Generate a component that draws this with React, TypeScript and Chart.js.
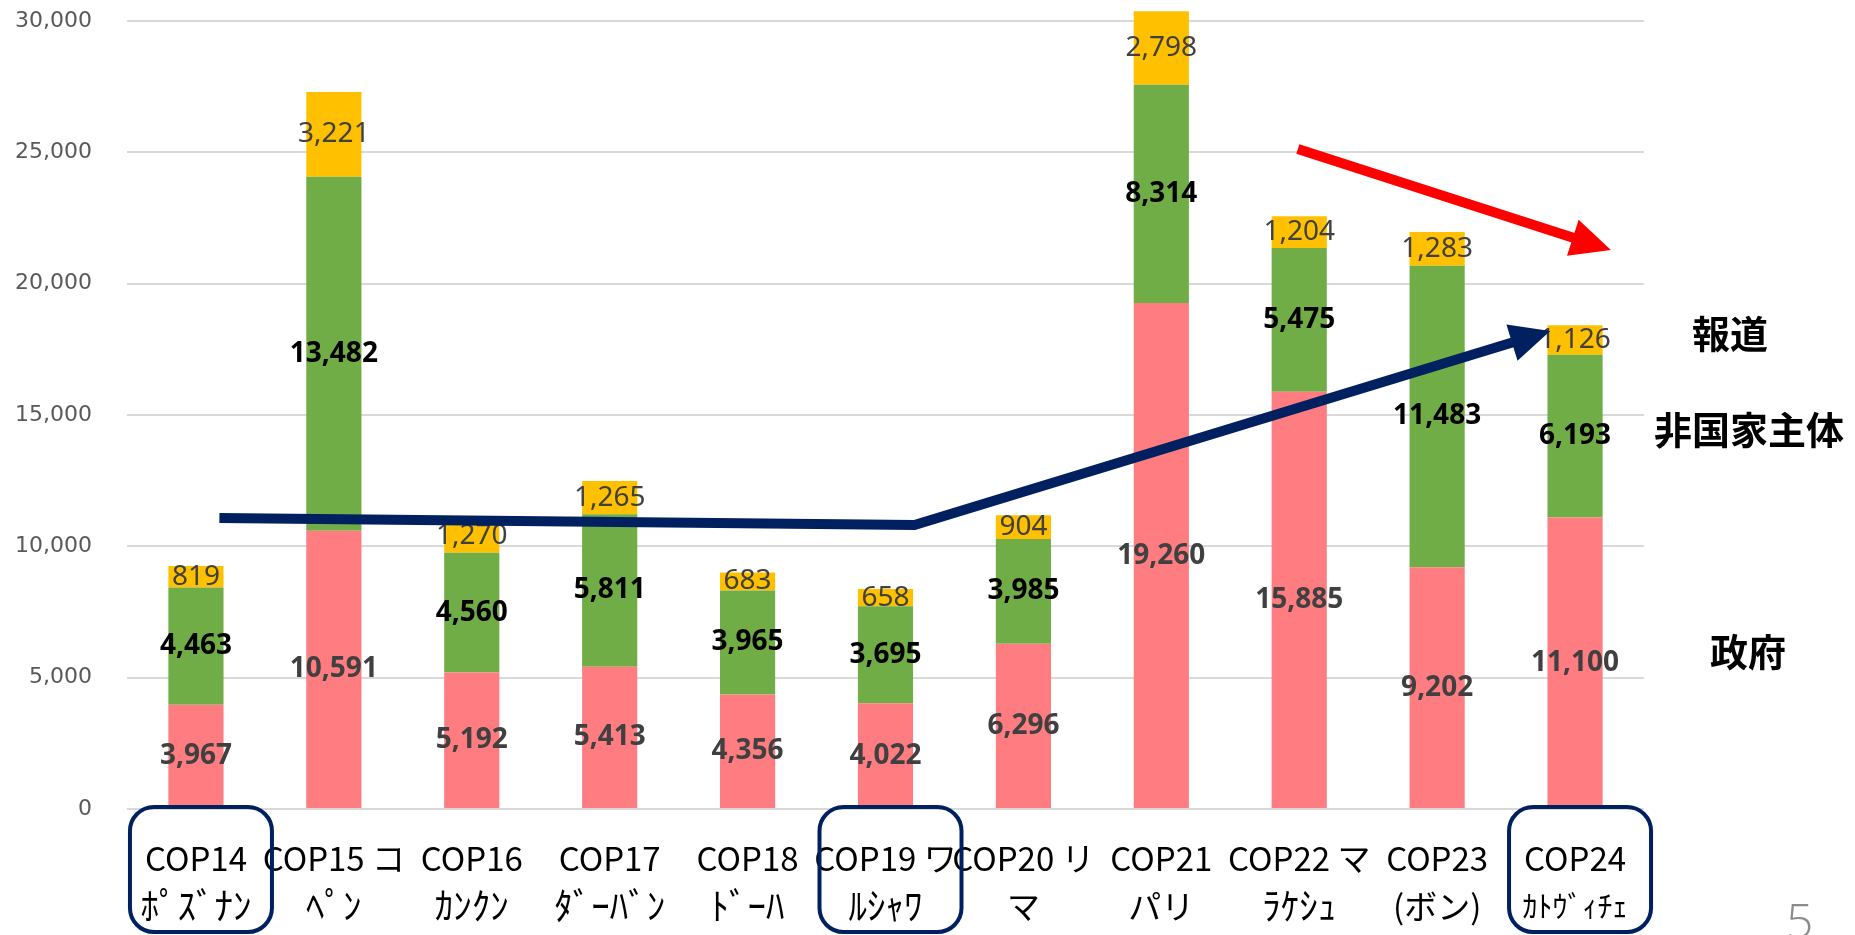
import React, { useEffect, useRef } from "react";
import { Chart, registerables } from "chart.js";

Chart.register(...registerables);

const categories: string[][] = [
  ["COP14", "ﾎﾟｽﾞﾅﾝ"],
  ["COP15 コ", "ﾍﾟﾝ"],
  ["COP16", "ｶﾝｸﾝ"],
  ["COP17", "ﾀﾞｰﾊﾞﾝ"],
  ["COP18", "ﾄﾞｰﾊ"],
  ["COP19 ワ", "ﾙｼｬﾜ"],
  ["COP20 リ", "マ"],
  ["COP21", "パリ"],
  ["COP22 マ", "ﾗｹｼｭ"],
  ["COP23", "(ボン)"],
  ["COP24", "ｶﾄｳﾞｨﾁｪ"],
];

const government = [3967, 10591, 5192, 5413, 4356, 4022, 6296, 19260, 15885, 9202, 11100];
const nonState = [4463, 13482, 4560, 5811, 3965, 3695, 3985, 8314, 5475, 11483, 6193];
const press = [819, 3221, 1270, 1265, 683, 658, 904, 2798, 1204, 1283, 1126];

const seriesNames = ["政府", "非国家主体", "報道"];
const highlighted = [0, 5, 10];

// arrow annotations in data space (category index, value)
const navyArrow = [
  { x: 0.17, y: 11080 },
  { x: 5.21, y: 10810 },
  { x: 9.82, y: 18200 },
];
const redArrow = [
  { x: 7.99, y: 25130 },
  { x: 10.26, y: 21280 },
];

const fmt = (v: number) => v.toLocaleString("en-US");
const isHalfWidth = (t: string) => /[\uFF61-\uFF9F]/.test(t);

function drawArrow(ctx: CanvasRenderingContext2D, pts: { x: number; y: number }[], color: string) {
  const n = pts.length;
  const tip = pts[n - 1];
  const prev = pts[n - 2];
  const ang = Math.atan2(tip.y - prev.y, tip.x - prev.x);
  const headLen = 40;
  const headHalf = 19;
  const base = { x: tip.x - Math.cos(ang) * headLen, y: tip.y - Math.sin(ang) * headLen };
  ctx.save();
  ctx.strokeStyle = color;
  ctx.fillStyle = color;
  ctx.lineWidth = 10;
  ctx.lineCap = "butt";
  ctx.lineJoin = "miter";
  ctx.beginPath();
  ctx.moveTo(pts[0].x, pts[0].y);
  for (let i = 1; i < n - 1; i++) ctx.lineTo(pts[i].x, pts[i].y);
  ctx.lineTo(base.x + Math.cos(ang) * 2, base.y + Math.sin(ang) * 2);
  ctx.stroke();
  ctx.beginPath();
  ctx.moveTo(tip.x, tip.y);
  ctx.lineTo(base.x + Math.cos(ang + Math.PI / 2) * headHalf, base.y + Math.sin(ang + Math.PI / 2) * headHalf);
  ctx.lineTo(base.x - Math.cos(ang + Math.PI / 2) * headHalf, base.y - Math.sin(ang + Math.PI / 2) * headHalf);
  ctx.closePath();
  ctx.fill();
  ctx.restore();
}

const overlayPlugin = {
  id: "overlay",
  afterDatasetsDraw(chart: any) {
    const ctx: CanvasRenderingContext2D = chart.ctx;
    const xs = chart.scales.x;
    const ys = chart.scales.y;
    const styles = [
      { color: "#404040", weight: "bold" },
      { color: "#000000", weight: "bold" },
      { color: "#404040", weight: "normal" },
    ];
    chart.data.datasets.forEach((ds: any, di: number) => {
      const meta = chart.getDatasetMeta(di);
      ctx.save();
      ctx.font = `${styles[di].weight} 28px "Noto Sans", sans-serif`;
      ctx.fillStyle = styles[di].color;
      ctx.textAlign = "center";
      ctx.textBaseline = "middle";
      meta.data.forEach((bar: any, i: number) => {
        const p = bar.getProps(["x", "y", "base"], true);
        ctx.fillText(fmt(ds.data[i]), p.x, (p.y + p.base) / 2);
      });
      ctx.restore();
    });
    const toPx = (pts: { x: number; y: number }[]) =>
      pts.map((p) => ({ x: xs.getPixelForValue(p.x), y: ys.getPixelForValue(p.y) }));
    drawArrow(ctx, toPx(redArrow), "#FF0000");
    drawArrow(ctx, toPx(navyArrow), "#002060");
  },
  afterDraw(chart: any) {
    const ctx: CanvasRenderingContext2D = chart.ctx;
    const xs = chart.scales.x;
    // category labels
    ctx.save();
    ctx.fillStyle = "#000000";
    ctx.textAlign = "center";
    ctx.textBaseline = "middle";
    categories.forEach((lines, i) => {
      const cx = xs.getPixelForValue(i);
      lines.forEach((t, li) => {
        let size = 33;
        if (li === 1 && isHalfWidth(t)) size = i === categories.length - 1 ? 30 : 37;
        ctx.font = `${size}px "Noto Sans CJK JP", sans-serif`;
        ctx.fillText(t, cx, xs.top + 49 + li * 48);
      });
    });
    ctx.restore();
    // highlight boxes
    ctx.save();
    ctx.strokeStyle = "#002060";
    ctx.lineWidth = 4;
    highlighted.forEach((i) => {
      const cx = xs.getPixelForValue(i) + 5;
      const w = 142;
      const top = xs.top - 2;
      const h = 932 - top;
      ctx.beginPath();
      (ctx as any).roundRect(cx - w / 2, top, w, h, 24);
      ctx.stroke();
    });
    ctx.restore();
    // series names on the right
    ctx.save();
    ctx.font = 'bold 38px "Noto Sans CJK JP", sans-serif';
    ctx.fillStyle = "#000000";
    ctx.textAlign = "center";
    ctx.textBaseline = "middle";
    const pos = [
      { x: 1748, y: 652 },
      { x: 1749, y: 430 },
      { x: 1730, y: 334 },
    ];
    seriesNames.forEach((s, i) => ctx.fillText(s, pos[i].x, pos[i].y));
    // page number
    ctx.font = '300 48px "Open Sans", sans-serif';
    ctx.fillStyle = "#8c8c8c";
    ctx.textAlign = "left";
    ctx.textBaseline = "top";
    ctx.fillText("5", 1786, 900);
    ctx.restore();
  },
};

export default function App() {
  const ref = useRef<HTMLCanvasElement | null>(null);
  useEffect(() => {
    document.body.style.margin = "0";
    const canvas = ref.current!;
    const chart = new Chart(canvas, {
      type: "bar",
      data: {
        labels: categories,
        datasets: [
          { label: seriesNames[0], data: government, backgroundColor: "#FF7C80", clip: false as any },
          { label: seriesNames[1], data: nonState, backgroundColor: "#70AD47", clip: false as any },
          { label: seriesNames[2], data: press, backgroundColor: "#FFC000", clip: false as any },
        ],
      },
      options: {
        responsive: false,
        animation: false,
        layout: { padding: { left: 0, right: 211, top: 21, bottom: 0 } },
        plugins: { legend: { display: false }, tooltip: { enabled: false } },
        datasets: { bar: { categoryPercentage: 1, barPercentage: 0.4 } },
        scales: {
          x: {
            stacked: true,
            grid: { display: false, drawTicks: false },
            border: { display: false },
            ticks: { display: false },
            afterFit: (s: any) => {
              s.height = 126;
              s.paddingLeft = 0;
              s.paddingRight = 0;
            },
          },
          y: {
            stacked: true,
            min: 0,
            max: 30000,
            grid: { color: "#D9D9D9", lineWidth: 2, drawTicks: false },
            border: { display: false },
            ticks: {
              stepSize: 5000,
              color: "#595959",
              padding: 35,
              font: { family: '"DejaVu Sans", sans-serif', size: 22 },
              callback: (v: any) => fmt(Number(v)),
            },
            afterFit: (s: any) => {
              s.width = 127;
              s.paddingTop = 0;
              s.paddingBottom = 0;
            },
          },
        },
      },
      plugins: [overlayPlugin],
    });
    return () => chart.destroy();
  }, []);
  return (
    <div style={{ position: "fixed", left: 0, top: 0, width: 1855, height: 935, background: "#fff" }}>
      <canvas ref={ref} width={1855} height={935} style={{ display: "block" }} />
    </div>
  );
}
